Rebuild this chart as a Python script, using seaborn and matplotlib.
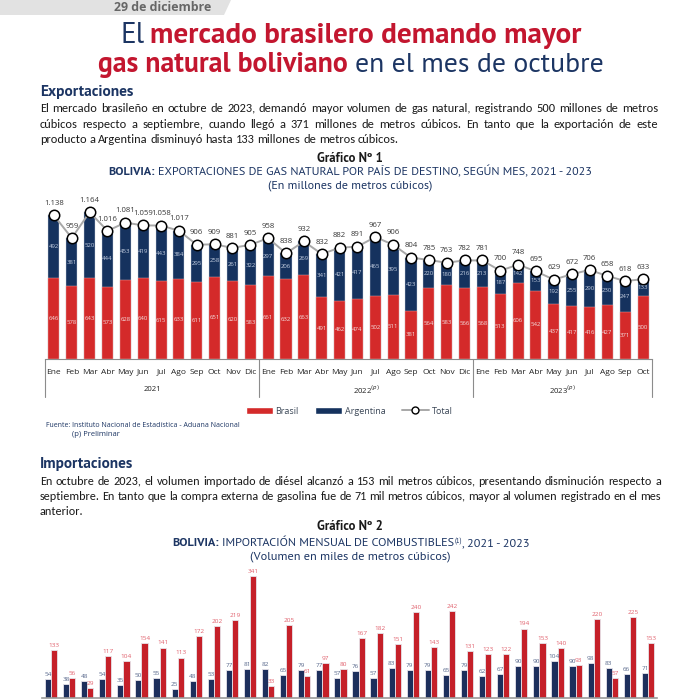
import matplotlib
matplotlib.use("Agg")
import matplotlib.pyplot as plt
import matplotlib.transforms as mtransforms
from matplotlib import font_manager as fm
from matplotlib.patches import Polygon, Patch
from matplotlib.lines import Line2D
import numpy as np
import pandas as pd
import seaborn as sns

# --- datos ---
meses = ["Ene", "Feb", "Mar", "Abr", "May", "Jun", "Jul", "Ago", "Sep", "Oct", "Nov", "Dic"]
anios = ["2021", "2022", "2023"]
meses_por_anio = [12, 12, 10]

brasil = [646, 578, 643, 573, 628, 640, 615, 633, 611, 651, 620, 583,
          661, 632, 663, 491, 462, 474, 502, 511, 381, 564, 583, 566,
          568, 513, 606, 542, 437, 417, 416, 427, 371, 500]
argentina = [492, 381, 520, 444, 453, 419, 443, 384, 295, 258, 261, 322,
             297, 206, 269, 341, 421, 417, 465, 395, 423, 220, 180, 216,
             213, 187, 142, 153, 192, 255, 290, 230, 247, 133]
total = [1138, 959, 1164, 1016, 1081, 1059, 1058, 1017, 906, 909, 881, 905,
         958, 838, 932, 832, 882, 891, 967, 906, 804, 785, 763, 782,
         781, 700, 748, 695, 629, 672, 706, 658, 618, 633]

gasolina = [54, 38, 48, 54, 35, 50, 55, 25, 48, 53, 77, 81,
            82, 65, 79, 77, 57, 76, 57, 83, 79, 79, 65, 79,
            62, 67, 90, 90, 104, 90, 98, 83, 66, 71]
diesel = [133, 56, 29, 117, 104, 154, 141, 113, 172, 202, 219, 341,
          33, 205, 61, 97, 80, 167, 182, 151, 240, 143, 242, 131,
          123, 122, 194, 153, 140, 93, 220, 57, 225, 153]

parrafo_exp = [
    "El mercado brasileño en octubre de 2023, demandó mayor volumen de gas natural, registrando 500 millones de metros",
    "cúbicos respecto a septiembre, cuando llegó a 371 millones de metros cúbicos. En tanto que la exportación de este",
    "producto a Argentina disminuyó hasta 133 millones de metros cúbicos.",
]
parrafo_imp = [
    "En octubre de 2023, el volumen importado de diésel  alcanzó a 153 mil metros cúbicos, presentando disminución respecto a",
    "septiembre. En tanto que la compra externa de gasolina fue de 71 mil metros cúbicos, mayor al volumen registrado en el mes",
    "anterior.",
]


def elegir(preferidas, respaldo):
    # primera familia instalada que tenga variante negrita
    pesos = {}
    for f in fm.fontManager.ttflist:
        w = f.weight if not isinstance(f.weight, str) else fm.weight_dict.get(f.weight, 400)
        pesos.setdefault(f.name, set()).add(w)
    for fam in preferidas:
        if fam in pesos and max(pesos[fam]) >= 600 and min(pesos[fam]) <= 500:
            return [fam, "DejaVu Sans"]
    return [respaldo, "DejaVu Sans"]


# --- estilo ---
sns.set_theme(style="white")
TITULO = elegir(["Source Sans 3", "Source Sans Pro", "PT Sans", "Fira Sans", "Roboto"], "Roboto")
CUERPO = elegir(["Carlito", "Source Sans 3", "Source Sans Pro", "PT Sans"], "Liberation Sans")
GRAF = ["Open Sans", "DejaVu Sans"]
plt.rcParams["font.family"] = GRAF

NAVY_TXT = "#1c3563"
ROJO_TXT = "#c3162f"
NEGRO = "#1a1a1a"
ROJO = "#d42a2a"
AZUL = "#15325e"
ROJO2 = "#c52029"
AZUL2 = "#1d2f5c"

W = H = 700
PT = 100 / 72
fig = plt.figure(figsize=(7, 7), dpi=100)
renderer = fig.canvas.get_renderer()


def fy(y):
    return 1 - y / H


def ancho(t):
    return t.get_window_extent(renderer).width


def ancho_espacio(size, family, weight):
    a = fig.text(0, 0, "x x", fontsize=size, family=family, fontweight=weight)
    b = fig.text(0, 0, "xx", fontsize=size, family=family, fontweight=weight)
    w = ancho(a) - ancho(b)
    a.remove()
    b.remove()
    return w


def linea(y, piezas, size, family, xc=None, x0=None, fit=None):
    # piezas: (texto, color, peso, escala, dy, pegado); y = centro de las mayusculas
    objs = []
    for p in piezas:
        txt, color, weight = p[0], p[1], p[2]
        esc = p[3] if len(p) > 3 else 1.0
        t = fig.text(0, 0, txt, color=color, fontweight=weight,
                     fontsize=size * esc, family=family, va="baseline", ha="left")
        objs.append(t)
    esp = ancho_espacio(size, family, piezas[-1][2])
    gaps = [0] + [0 if (len(p) > 5 and p[5]) else 1 for p in piezas[1:]]
    if fit:
        k = fit / (sum(ancho(t) for t in objs) + esp * sum(gaps))
        size = size * k
        for t in objs:
            t.set_fontsize(t.get_fontsize() * k)
        esp = esp * k
    base = y + 0.34 * size * PT
    ws = [ancho(t) for t in objs]
    tot = sum(ws) + esp * sum(gaps)
    x = x0 if x0 is not None else xc - tot / 2
    for t, w, g, p in zip(objs, ws, gaps, piezas):
        dy = p[4] if len(p) > 4 else 0
        x += g * esp
        t.set_position((x / W, fy(base - dy)))
        x += w
    return size


def parrafo(lineas, ys, x0, x1, natural, justificar, base=10):
    # tamano elegido para que la primera linea mida `natural` px con espacios normales
    palabras0 = lineas[0].split()
    tmp = [fig.text(0, 0, p, fontsize=base, family=CUERPO) for p in palabras0]
    suma = sum(ancho(t) for t in tmp)
    for t in tmp:
        t.remove()
    esp0 = ancho_espacio(base, CUERPO, "normal")
    size = base * natural / (suma + esp0 * (len(palabras0) - 1))
    esp = ancho_espacio(size, CUERPO, "normal")
    for txt, y, just in zip(lineas, ys, justificar):
        palabras = txt.split()
        linea_base = y + 0.3 * size * PT
        objs = [fig.text(0, fy(linea_base), p, fontsize=size, family=CUERPO, color=NEGRO,
                         va="baseline", ha="left") for p in palabras]
        ws = [ancho(t) for t in objs]
        gap = (x1 - x0 - sum(ws)) / (len(ws) - 1) if just else esp
        x = x0
        for t, w in zip(objs, ws):
            t.set_x(x / W)
            x += w + gap


# --- cabecera ---
fig.patches.append(Polygon([[0, fy(0)], [231 / W, fy(0)], [224 / W, fy(15)], [0, fy(15)]],
                           closed=True, transform=fig.transFigure, facecolor="#e2e2e2",
                           edgecolor="none"))
linea(7, [("29 de diciembre", "#666666", "bold")], 9, GRAF, xc=163, fit=97)

linea(33, [("El", NAVY_TXT, "normal"), ("mercado brasilero demando mayor", ROJO_TXT, "bold")],
      20, TITULO, xc=351, fit=462)
linea(63, [("gas natural boliviano", ROJO_TXT, "bold"), ("en el mes de octubre", NAVY_TXT, "normal")],
      20, TITULO, xc=351, fit=506)

# --- texto exportaciones ---
linea(91, [("Exportaciones", NAVY_TXT, "bold")], 11, TITULO, x0=40, fit=93)
parrafo(parrafo_exp, [108, 124, 139], 40, 658, 606, [True, True, False])

linea(158, [("Gráfico Nº 1", NEGRO, "bold")], 9, TITULO, xc=350, fit=66)
linea(171, [("BOLIVIA:", NAVY_TXT, "bold"),
            ("EXPORTACIONES DE GAS NATURAL POR PAÍS DE DESTINO, SEGÚN MES, 2021 - 2023", NAVY_TXT, "normal")],
      9, TITULO, xc=350, fit=485)
linea(184, [("(En millones de metros cúbicos)", NAVY_TXT, "normal")], 9, TITULO, xc=350, fit=164)

# --- grafico 1 ---
periodos = [f"{a}-{m}" for a, k in zip(anios, meses_por_anio) for m in meses[:k]]
etiquetas_mes = [m for k in meses_por_anio for m in meses[:k]]
n = len(periodos)
df1 = pd.DataFrame({"periodo": periodos, "Brasil": brasil, "Argentina": argentina, "Total": total})
df1["apilado"] = df1["Brasil"] + df1["Argentina"]

ax1 = fig.add_axes([45 / W, fy(359), 607 / W, 164 / H])
sns.barplot(data=df1, x="periodo", y="apilado", color=AZUL, width=0.62, saturation=1,
            edgecolor="#c9d0dc", linewidth=0.3, ax=ax1)
sns.barplot(data=df1, x="periodo", y="Brasil", color=ROJO, width=0.62, saturation=1,
            edgecolor="#e9b3b3", linewidth=0.3, ax=ax1)
pos = np.arange(n)
ax1.plot(pos, df1["Total"], color="#a8a8a8", linewidth=1.4, zorder=4,
         marker="o", markersize=7.5, markerfacecolor="white", markeredgecolor="black",
         markeredgewidth=1.1)
for i in range(n):
    b, a, t = brasil[i], argentina[i], total[i]
    ax1.text(i, b / 2, str(b), ha="center", va="center", fontsize=4.3, color="#f2dede", zorder=5)
    ax1.text(i, b + a / 2, str(a), ha="center", va="center", fontsize=4.3, color="#c6d0e2", zorder=5)
    ax1.annotate(f"{t:,}".replace(",", "."), (i, t), xytext=(0, 8.5), textcoords="offset points",
                 ha="center", va="center", fontsize=5.6, color="#3a3a3a", zorder=6)

ax1.set_xlim(-0.5, n - 0.5)
ax1.set_ylim(0, 1300)
ax1.set_xlabel("")
ax1.set_ylabel("")
ax1.set_yticks([])
ax1.set_xticks(pos)
ax1.set_xticklabels(etiquetas_mes)
ax1.tick_params(axis="x", length=0, pad=7, labelsize=6, labelcolor="#222222")
for lado in ["top", "left", "right"]:
    ax1.spines[lado].set_visible(False)
ax1.spines["bottom"].set_color("#8c8c8c")
ax1.spines["bottom"].set_linewidth(0.8)
ax1.patch.set_alpha(0)

trans = mtransforms.blended_transform_factory(ax1.transData, ax1.transAxes)
cortes = np.cumsum([0] + meses_por_anio) - 0.5
for xv in cortes:
    ax1.plot([xv, xv], [0, -0.232], transform=trans, color="#8c8c8c", lw=0.8, clip_on=False)
rotulos = ["2021", "2022$^{(p)}$", "2023$^{(p)}$"]
for j, r in enumerate(rotulos):
    centro = (cortes[j] + cortes[j + 1]) / 2
    ax1.text(centro, -0.189, r, transform=trans, ha="center", va="center", fontsize=5.6,
             color="#222222")

fig.legend(handles=[Patch(facecolor=ROJO), Patch(facecolor=AZUL),
                    Line2D([0], [0], color="#a8a8a8", lw=1.4, marker="o", markersize=5,
                           markerfacecolor="white", markeredgecolor="black")],
           labels=["Brasil", "Argentina", "Total"], loc="center",
           bbox_to_anchor=(349 / W, fy(411)), ncol=3, frameon=False, fontsize=6.5,
           handlelength=3.0, handleheight=0.9, handletextpad=0.3, columnspacing=1.8,
           labelcolor="#3a4656")

linea(425, [("Fuente: Instituto Nacional de Estadística - Aduana Nacional", NAVY_TXT, "normal")],
      5.5, GRAF, x0=46, fit=191)
linea(433, [("(p) Preliminar", NAVY_TXT, "normal")], 5.5, GRAF, x0=72)

# --- texto importaciones ---
linea(463, [("Importaciones", NAVY_TXT, "bold")], 11, TITULO, x0=40, fit=93)
parrafo(parrafo_imp, [481, 496, 511], 40, 661, 612, [True, True, False])

linea(526, [("Gráfico Nº 2", NEGRO, "bold")], 9, TITULO, xc=350, fit=66)
linea(542, [("BOLIVIA:", NAVY_TXT, "bold"),
            ("IMPORTACIÓN MENSUAL DE COMBUSTIBLES", NAVY_TXT, "normal"),
            ("(1)", NAVY_TXT, "normal", 0.55, 3, True),
            (", 2021 - 2023", NAVY_TXT, "normal", 1.0, 0, True)],
      9, TITULO, xc=351, fit=358)
linea(555, [("(Volumen en miles de metros cúbicos)", NAVY_TXT, "normal")], 9, TITULO, xc=350, fit=200)

# --- grafico 2 ---
df2 = pd.DataFrame({
    "periodo": periodos * 2,
    "Combustible": ["Gasolina"] * n + ["Diésel"] * n,
    "volumen": gasolina + diesel,
})
ax2 = fig.add_axes([42 / W, fy(698), 615 / W, 136 / H])
sns.barplot(data=df2, x="periodo", y="volumen", hue="Combustible",
            hue_order=["Gasolina", "Diésel"], palette=[AZUL2, ROJO2], width=0.68,
            saturation=1, legend=False, edgecolor="#e6e3ea", linewidth=0.6, ax=ax2)
colores_etq = ["#56668a", "#e0606c"]
for cont, col in zip(ax2.containers, colores_etq):
    ax2.bar_label(cont, fmt="%d", fontsize=4.6, color=col, padding=1.5)
ax2.set_xlim(-0.5, n - 0.5)
ax2.set_ylim(0, 380)
ax2.set_xlabel("")
ax2.set_ylabel("")
ax2.set_xticks([])
ax2.set_yticks([])
for lado in ["top", "left", "right"]:
    ax2.spines[lado].set_visible(False)
ax2.spines["bottom"].set_color("#9a9a9a")
ax2.spines["bottom"].set_linewidth(1.2)
ax2.patch.set_alpha(0)

fig.savefig("out.png", dpi=100)
